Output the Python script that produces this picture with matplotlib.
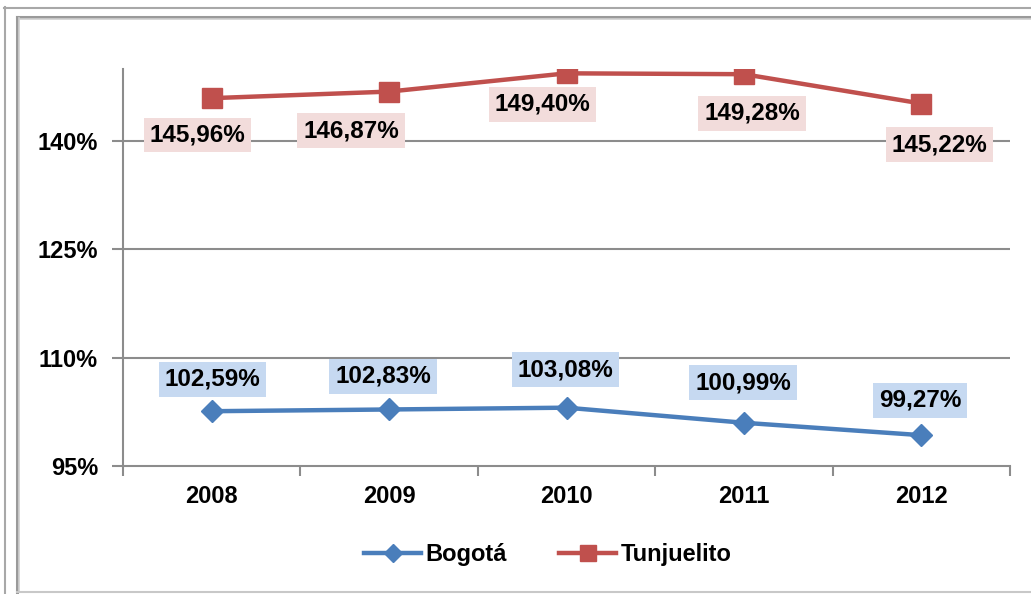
import matplotlib
matplotlib.use('Agg')
import matplotlib.pyplot as plt
from matplotlib.lines import Line2D

plt.rcParams['font.family'] = ['Liberation Sans', 'DejaVu Sans']
plt.rcParams['font.weight'] = 'bold'

# datos
years = ['2008', '2009', '2010', '2011', '2012']
bogota = [102.59, 102.83, 103.08, 100.99, 99.27]
tunjuelito = [145.96, 146.87, 149.40, 149.28, 145.22]
yticks = [95, 110, 125, 140]

# desplazamiento de etiquetas (pixeles)
off_bog = [(1, 32), (-6, 33), (-1, 38), (-1, 40), (-1, 35)]
off_tun = [(-14, -37), (-38, -39), (-24, -31), (8, -39), (18, -41)]

blue = '#4A7EBB'
red = '#C0504D'
grid = '#8C8C8C'

fig = plt.figure(figsize=(10.31, 5.94), dpi=100)
W, H = 1031, 594

# marco del grafico
def hline(y, x0, x1, c, lw):
    fig.add_artist(Line2D([x0 / W, x1 / W], [1 - y / H, 1 - y / H], color=c, lw=lw, transform=fig.transFigure))

def vline(x, y0, y1, c, lw):
    fig.add_artist(Line2D([x / W, x / W], [1 - y0 / H, 1 - y1 / H], color=c, lw=lw, transform=fig.transFigure))

hline(7.5, 4, W, '#A8A8A8', 1.5)
vline(5, 7, H, '#A8A8A8', 1.5)
hline(17, 17, W, '#9A9A9A', 2.2)
hline(19, 18, W, '#D0D0D0', 1.2)
vline(17, 17, 592, '#9A9A9A', 2.2)
vline(19, 18, 592, '#D0D0D0', 1.2)
hline(592, 17, W, '#C8C8C8', 1.5)

ax = fig.add_axes([123 / W, 1 - 466 / H, (1010 - 123) / W, (466 - 69) / H])
x = list(range(len(years)))

ax.plot(x, bogota, color=blue, lw=3.2, marker='D', ms=11.5, zorder=3)
ax.plot(x, tunjuelito, color=red, lw=3.2, marker='s', ms=14, zorder=3)

def fmt(v):
    return f'{v:.2f}'.replace('.', ',') + '%'

for i, v in enumerate(bogota):
    ax.annotate(fmt(v), (i, v), xytext=off_bog[i], textcoords='offset pixels',
                ha='center', va='center', fontsize=17.5, fontweight='bold', zorder=5,
                bbox=dict(boxstyle='square,pad=0.24', fc='#C6D9F1', ec='none'))
for i, v in enumerate(tunjuelito):
    ax.annotate(fmt(v), (i, v), xytext=off_tun[i], textcoords='offset pixels',
                ha='center', va='center', fontsize=17.5, fontweight='bold', zorder=5,
                bbox=dict(boxstyle='square,pad=0.24', fc='#F2DCDB', ec='none'))

ax.set_xlim(-0.5, len(years) - 0.5)
ax.set_ylim(95, 150)
ax.set_yticks(yticks)
ax.set_yticklabels([f'{t}%' for t in yticks], fontsize=17, fontweight='bold')
ax.set_xticks(x)
ax.set_xticklabels(years, fontsize=17, fontweight='bold')
ax.set_xticks([i - 0.5 for i in range(len(years) + 1)], minor=True)
ax.tick_params(axis='x', which='major', length=0, pad=14)
ax.tick_params(axis='x', which='minor', length=7, width=1.5, color=grid, direction='out')
ax.tick_params(axis='y', length=8, width=1.5, color=grid, pad=10)
for t in yticks[1:]:
    ax.axhline(t, color=grid, lw=1.5, zorder=1)
for s in ['top', 'right']:
    ax.spines[s].set_visible(False)
for s in ['left', 'bottom']:
    ax.spines[s].set_color(grid)
    ax.spines[s].set_linewidth(1.5)

handles = [Line2D([], [], color=blue, lw=3.2, marker='D', ms=9),
           Line2D([], [], color=red, lw=3.2, marker='s', ms=11)]
fig.legend(handles, ['Bogotá', 'Tunjuelito'], loc='center', bbox_to_anchor=(548 / W, 1 - 555 / H),
           ncol=2, frameon=False, prop={'size': 17, 'weight': 'bold'},
           handlelength=2.4, handletextpad=0.2, columnspacing=2.2)

fig.savefig('out.png', dpi=100)
